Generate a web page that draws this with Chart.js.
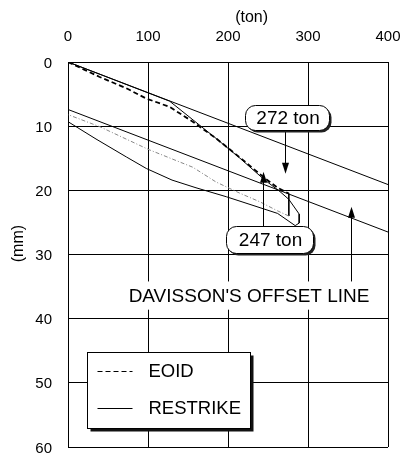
<!DOCTYPE html>
<html><head><meta charset="utf-8">
<script src="https://cdn.jsdelivr.net/npm/chart.js@4/dist/chart.umd.min.js"></script>
<style>html,body{margin:0;padding:0;background:#fff}#wrap{width:407px;height:462px;position:relative}</style>
</head><body><div id="wrap"><canvas id="c" width="407" height="462"></canvas></div>
<script>
// ---------- data (load in ton, settlement in mm) ----------
const xTicks = [0, 100, 200, 300, 400];
const yTicks = [0, 10, 20, 30, 40, 50, 60];
const seriesNames = ['EOID', 'RESTRIKE'];
const xTitle = '(ton)';
const yTitle = '(mm)';

const elasticLoad = [0, 400];
const elasticSet  = [0, 19.1];

const offsetLoad = [0, 0, 400];
const offsetSet  = [0, 7.4, 26.5];

const eoidLoad = [0, 39, 73, 98, 127, 156, 185, 215, 245, 262, 276];
const eoidSet  = [0, 2.3, 4.1, 5.7, 7.0, 9.3, 11.9, 14.9, 18.0, 19.6, 20.5];

const eoidDropLoad = [276, 276];
const eoidDropSet  = [20.5, 24.0];

const eoidUnloadLoad = [276, 262, 240, 214, 185, 156, 100, 40, 0];
const eoidUnloadSet  = [24.0, 23.2, 21.8, 20.4, 18.7, 16.4, 13.6, 10.1, 8.2];

const restrikeLoad = [0, 127, 155, 185, 215, 245, 265, 276, 289, 289, 284, 262, 230, 198, 160, 130, 98, 73, 35, 0];
const restrikeSet  = [0, 6.1, 8.9, 11.9, 15.0, 18.3, 20.2, 21.4, 23.7, 25.1, 25.5, 23.6, 22.3, 21.0, 19.6, 18.4, 16.6, 14.8, 12.0, 9.3];

const capacityLabels = ['272 ton', '247 ton'];
const offsetLabel = "DAVISSON'S OFFSET LINE";

// ---------- helpers ----------
const pts = (xs, ys) => xs.map((x, i) => ({x, y: ys[i]}));
const FONT = '"Liberation Sans", Arial, Helvetica, sans-serif';

function rrect(ctx, x, y, w, h, r) {
  ctx.beginPath();
  ctx.moveTo(x + r, y);
  ctx.lineTo(x + w - r, y);
  ctx.arcTo(x + w, y, x + w, y + r, r);
  ctx.lineTo(x + w, y + h - r);
  ctx.arcTo(x + w, y + h, x + w - r, y + h, r);
  ctx.lineTo(x + r, y + h);
  ctx.arcTo(x, y + h, x, y + h - r, r);
  ctx.lineTo(x, y + r);
  ctx.arcTo(x, y, x + r, y, r);
  ctx.closePath();
}
function arrow(ctx, x, yFrom, yTo) {
  ctx.save();
  ctx.strokeStyle = '#000'; ctx.fillStyle = '#000'; ctx.lineWidth = 1;
  const dir = yTo > yFrom ? 1 : -1;
  ctx.beginPath();
  ctx.moveTo(x, yFrom); ctx.lineTo(x, yTo - dir * 8); ctx.stroke();
  ctx.beginPath();
  ctx.moveTo(x, yTo); ctx.lineTo(x - 3.5, yTo - dir * 11); ctx.lineTo(x + 3.5, yTo - dir * 11);
  ctx.closePath(); ctx.fill();
  ctx.restore();
}
function labelBox(ctx, cx, cy, w, h, text) {
  ctx.save();
  const x = Math.round(cx - w / 2) + 0.5, y = Math.round(cy - h / 2) + 0.5;
  ctx.fillStyle = '#222';
  rrect(ctx, x + 2, y + 2, w, h, 10); ctx.fill();
  ctx.fillStyle = '#fff'; ctx.strokeStyle = '#000'; ctx.lineWidth = 1;
  rrect(ctx, x, y, w, h, 10); ctx.fill(); ctx.stroke();
  ctx.fillStyle = '#000'; ctx.font = '19px ' + FONT;
  ctx.textAlign = 'center'; ctx.textBaseline = 'middle';
  ctx.fillText(text, cx + 1, cy + 1);
  ctx.restore();
}

const annot = {
  id: 'annot',
  afterDatasetsDraw(chart) {
    const ctx = chart.ctx, xs = chart.scales.x, ys = chart.scales.y;
    const px = v => xs.getPixelForValue(v), py = v => ys.getPixelForValue(v);
    // arrows
    const a272 = Math.round(px(271.3)) + 0.5;
    arrow(ctx, a272, py(10.6), py(17.4));
    const a247 = Math.round(px(244.1)) + 0.5;
    arrow(ctx, a247, py(25.6), py(17.1));
    const aOff = Math.round(px(353.7)) + 0.5;
    arrow(ctx, aOff, py(36), py(22.55));
    // boxes
    labelBox(ctx, px(273.8), py(8.65), 84, 25, capacityLabels[0]);
    labelBox(ctx, px(251.9), py(27.66), 87, 27, capacityLabels[1]);
    // offset text with white background
    ctx.save();
    ctx.fillStyle = '#fff';
    const tcx = px(226.3), tcy = py(36.6);
    ctx.fillRect(px(65), py(34.2), px(396) - px(65), py(38.6) - py(34.2));
    ctx.fillStyle = '#000'; ctx.font = '19px ' + FONT;
    ctx.textAlign = 'center'; ctx.textBaseline = 'middle';
    ctx.fillText(offsetLabel, tcx, tcy);
    ctx.restore();
    // legend
    ctx.save();
    const lx = Math.round(px(23.3)) + 0.5, ly = Math.round(py(45.2)) + 0.5;
    const lw = Math.round(px(227.5) - px(23.3)), lh = Math.round(py(57.1) - py(45.2));
    ctx.fillStyle = '#111'; ctx.fillRect(lx + 3, ly + 3, lw, lh);
    ctx.fillStyle = '#fff'; ctx.fillRect(lx, ly, lw, lh);
    ctx.strokeStyle = '#000'; ctx.lineWidth = 1; ctx.strokeRect(lx, ly, lw, lh);
    const rows = [py(48.2), py(53.9)];
    const styles = [[5, 3], []];
    for (let i = 0; i < 2; i++) {
      ctx.beginPath(); ctx.setLineDash(styles[i]);
      ctx.moveTo(lx + 10, Math.round(rows[i]) + 0.5); ctx.lineTo(lx + 45, Math.round(rows[i]) + 0.5);
      ctx.stroke();
      ctx.setLineDash([]);
      ctx.fillStyle = '#000'; ctx.font = '18.5px ' + FONT;
      ctx.textAlign = 'left'; ctx.textBaseline = 'middle';
      ctx.fillText(seriesNames[i], lx + 61, rows[i] + 1);
    }
    ctx.restore();
    // axis titles
    ctx.save();
    ctx.fillStyle = '#000'; ctx.font = '16px ' + FONT;
    ctx.textAlign = 'center'; ctx.textBaseline = 'middle';
    ctx.fillText(xTitle, px(229.5), 18);
    ctx.translate(19, py(28.3)); ctx.rotate(-Math.PI / 2);
    ctx.fillText(yTitle, 0, 0);
    ctx.restore();
  }
};

const line = (data, extra) => Object.assign({
  data, showLine: true, pointRadius: 0, borderColor: '#000', borderWidth: 1,
  fill: false, tension: 0
}, extra);

new Chart(document.getElementById('c'), {
  type: 'scatter',
  data: {
    datasets: [
      line(pts(elasticLoad, elasticSet), {label: 'elastic'}),
      line(pts(offsetLoad, offsetSet), {label: 'offset'}),
      line(pts(eoidUnloadLoad, eoidUnloadSet), {label: 'eoid-unload', borderColor: '#888', borderDash: [4, 2, 1, 2]}),
      line(pts(eoidDropLoad, eoidDropSet), {label: 'eoid-drop'}),
      line(pts(restrikeLoad, restrikeSet), {label: seriesNames[1]}),
      line(pts(eoidLoad, eoidSet), {label: seriesNames[0], borderDash: [5, 3], borderWidth: 1.8})
    ]
  },
  options: {
    responsive: false,
    animation: false,
    layout: {padding: {left: 0, top: 0, right: 19, bottom: 15}},
    plugins: {legend: {display: false}, tooltip: {enabled: false}},
    scales: {
      x: {
        type: 'linear', position: 'top', min: 0, max: 400,
        afterBuildTicks: s => { s.ticks = xTicks.map(v => ({value: v})); },
        afterFit: s => { s.height = 62; s.paddingLeft = 0; s.paddingRight = 0; },
        grid: {color: '#000', lineWidth: 1, drawTicks: false},
        border: {color: '#000', width: 1},
        ticks: {color: '#000', font: {family: FONT, size: 15}, padding: 16, maxRotation: 0}
      },
      y: {
        type: 'linear', reverse: true, min: 0, max: 60,
        afterBuildTicks: s => { s.ticks = yTicks.map(v => ({value: v})); },
        afterFit: s => { s.width = 68; s.paddingTop = 0; s.paddingBottom = 0; },
        grid: {color: '#000', lineWidth: 1, drawTicks: false},
        border: {color: '#000', width: 1},
        ticks: {color: '#000', font: {family: FONT, size: 15}, padding: 16, labelOffset: 1.5}
      }
    }
  },
  plugins: [annot]
});
</script>
</body></html>
